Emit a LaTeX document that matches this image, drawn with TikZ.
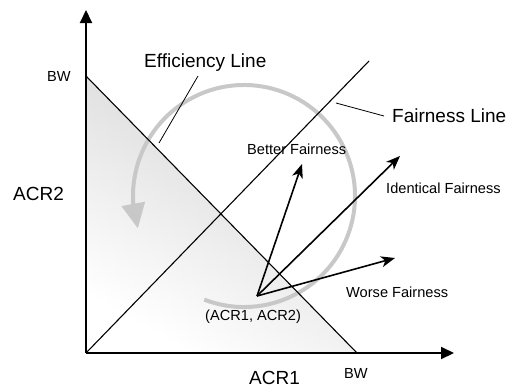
\documentclass[tikz,border=0pt]{standalone}
\usepackage{fontspec}
\setmainfont{Liberation Sans}
\usetikzlibrary{arrows.meta,bending}
\definecolor{arcgray}{RGB}{200,200,200}
\begin{document}
\begin{tikzpicture}[x=1pt,y=-1pt,
  big/.style={font=\fontsize{19}{22}\selectfont,inner sep=0pt,anchor=base west},
  small/.style={font=\fontsize{14.6}{17}\selectfont,inner sep=0pt,anchor=base west},
  axisline/.style={line width=2pt,-{Triangle[length=13pt,width=12pt]}},
  thinline/.style={line width=1.1pt},
  leader/.style={line width=0.8pt},
  movearrow/.style={line width=1.6pt,-{Stealth[length=14pt,width=11pt,inset=4pt]}}]
\useasboundingbox (0,0) rectangle (518,388);
% key points
\coordinate (O) at (86,353);
\coordinate (BWy) at (86,76);
\coordinate (BWx) at (357,353);
\coordinate (Ytip) at (86,10);
\coordinate (Xtip) at (454,353);
\coordinate (Ftop) at (369,61);
\coordinate (C) at (244,196);
\coordinate (P) at (257,296);
\coordinate (Tb) at (302,164);
\coordinate (Ti) at (400,156);
\coordinate (Tw) at (395,258);
\coordinate (E1) at (198,76);
\coordinate (E2) at (159,143);
\coordinate (F1) at (336,103);
\coordinate (F2) at (384,116);
% shaded triangle
\shade[left color=black!17, right color=white, shading angle=-30] (BWy) -- (O) -- (BWx) -- cycle;
% grey arc
\draw[arcgray, line width=4pt, -{Triangle[length=25pt,width=23pt]}] (C) ++(111:111) arc[start angle=111, end angle=-197, radius=111];
% lines
\draw[thinline] (BWy) -- (BWx);
\draw[thinline] (O) -- (Ftop);
\draw[leader] (E1) -- (E2);
\draw[leader] (F1) -- (F2);
% axes
\draw[axisline] (O) -- (Ytip);
\draw[axisline] (O) -- (Xtip);
% move arrows
\draw[movearrow] (P) -- (Tb);
\draw[movearrow] (P) -- (Ti);
\draw[movearrow] (P) -- (Tw);
% labels
\node[big] (eff) at (144,67) {Efficiency Line};
\node[big] (fair) at (392,122) {Fairness Line};
\node[big] (acr2) at (13,200) {ACR2};
\node[big] (acr1) at (249,384) {ACR1};
\node[small] (bwy) at (47,81) {BW};
\node[small] (bwx) at (344,378) {BW};
\node[small] (better) at (247,154) {Better Fairness};
\node[small] (ident) at (386,193) {Identical Fairness};
\node[small] (worse) at (346,297) {Worse Fairness};
\node[small] (pt) at (205,320) {(ACR1, ACR2)};
\end{tikzpicture}
\end{document}
